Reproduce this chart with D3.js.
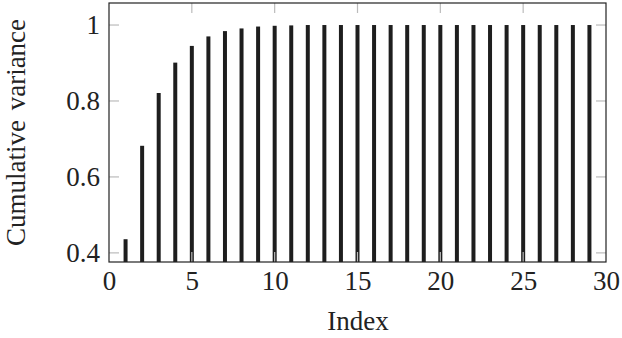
<!DOCTYPE html>
<html><head><meta charset="utf-8">
<script src="https://cdn.jsdelivr.net/npm/d3@7"></script>
<style>body{margin:0;background:#fff}svg{display:block}text{font-family:"Liberation Serif","DejaVu Serif",serif;fill:#222}</style>
</head><body>
<script>
const indices = d3.range(1, 30);
const cumulative = [0.436,0.682,0.821,0.901,0.945,0.970,0.984,0.991,0.996,0.998,0.999,
  1,1,1,1,1,1,1,1,1,1,1,1,1,1,1,1,1,1];
const xTicks = [0,5,10,15,20,25,30];
const yTicks = [0.4,0.6,0.8,1];
const xLabel = "Index", yLabel = "Cumulative variance";

const W=622,H=338, L=109, R=606, T=3, B=262;
const svg=d3.select("body").append("svg").attr("width",W).attr("height",H);
const x=d3.scaleLinear().domain([0,30]).range([L,R]);
const y=d3.scaleLinear().domain([0.376,1.058]).range([B,T]);

svg.append("g").selectAll("rect").data(indices).join("rect")
  .attr("x",d=>x(d)-2).attr("width",4)
  .attr("y",(d,i)=>y(cumulative[i])).attr("height",(d,i)=>B-y(cumulative[i]))
  .attr("fill","#1e1e1e");

const tl=10, tc="#bbb", fs=27;
const gxb=svg.append("g").attr("transform",`translate(0,${B})`)
  .call(d3.axisBottom(x).tickValues(xTicks).tickSize(0).tickPadding(9).tickFormat(d3.format("d")));
const gxt=svg.append("g").attr("transform",`translate(0,${T})`)
  .call(d3.axisTop(x).tickValues(xTicks).tickSize(0).tickFormat(""));
const gyl=svg.append("g").attr("transform",`translate(${L},0)`)
  .call(d3.axisLeft(y).tickValues(yTicks).tickSize(0).tickPadding(9).tickFormat(d=>d===1?"1":d3.format(".1f")(d)));
const gyr=svg.append("g").attr("transform",`translate(${R},0)`)
  .call(d3.axisRight(y).tickValues(yTicks).tickSize(0).tickFormat(""));
[gxb,gxt,gyl,gyr].forEach(g=>{g.select(".domain").remove();g.attr("font-size",fs).attr("font-family","Liberation Serif");g.selectAll("text").attr("fill","#222");});

const tg=svg.append("g").attr("stroke",tc).attr("stroke-width",1.2);
xTicks.filter(d=>d>0&&d<30).forEach(d=>{
  tg.append("line").attr("x1",x(d)).attr("x2",x(d)).attr("y1",B).attr("y2",B-tl);
  tg.append("line").attr("x1",x(d)).attr("x2",x(d)).attr("y1",T).attr("y2",T+tl);
});
yTicks.forEach(d=>{
  tg.append("line").attr("x1",L).attr("x2",L+tl).attr("y1",y(d)).attr("y2",y(d));
  tg.append("line").attr("x1",R).attr("x2",R-tl).attr("y1",y(d)).attr("y2",y(d));
});

svg.append("rect").attr("x",L).attr("y",T).attr("width",R-L).attr("height",B-T)
  .attr("fill","none").attr("stroke","#222").attr("stroke-width",1.2);

svg.append("text").attr("x",358).attr("y",330).attr("text-anchor","middle").attr("font-size",fs).text(xLabel);
svg.append("text").attr("transform",`translate(25,${(T+B)/2}) rotate(-90)`).attr("text-anchor","middle").attr("font-size",fs).attr("word-spacing",3).text(yLabel);
</script>
</body></html>
